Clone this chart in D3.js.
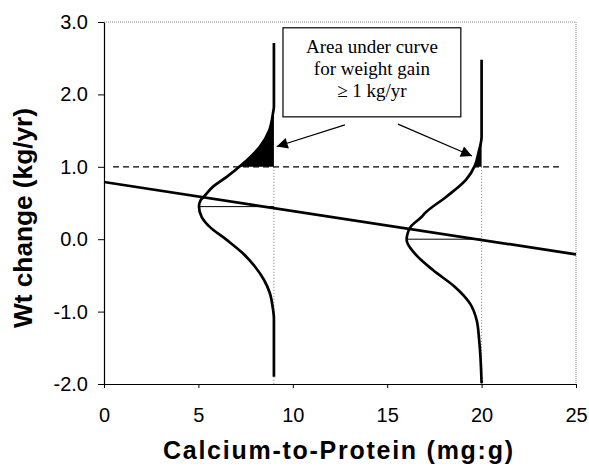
<!DOCTYPE html>
<html>
<head>
<meta charset="utf-8">
<script src="https://cdn.jsdelivr.net/npm/d3@7"></script>
<style>
  body { margin: 0; background: #fff; }
  text { font-family: "Liberation Sans", Arial, sans-serif; }
</style>
</head>
<body>
<svg id="chart"></svg>
<script>
// Canvas size
const width = 589;
const height = 467;
const margin = { top: 22, right: 13, bottom: 83, left: 104 };

// Axis ticks
const xTicks = [0, 5, 10, 15, 20, 25];
const yTicks = [-2, -1, 0, 1, 2, 3];

// Regression line (Ca:protein -> weight change)
const lineX = [0, 25];
const lineY = [0.79, -0.21];

// Distribution curve at 9 mg:g (sideways)
const curve1Base = 9;
const curve1Y = [2.71, 1.97, 1.83, 1.74, 1.51, 1.28, 1.02, 0.86, 0.73, 0.59, 0.54, 0.45, 0.31, 0.17, -0.01, -0.20, -0.38, -0.56, -0.75, -0.93, -1.10, -1.90];
const curve1X = [9.0, 9.0, 9.0, 8.95, 8.76, 8.26, 7.26, 6.5, 5.79, 5.3, 5.12, 5.03, 5.17, 5.6, 6.5, 7.38, 8.0, 8.47, 8.79, 8.93, 9.0, 9.0];
const curve1Peak = { x: 5.03, y: 0.45 };

// Distribution curve at 20 mg:g
const curve2Base = 20;
const curve2Y = [2.48, 1.42, 1.19, 1.02, 0.82, 0.59, 0.36, 0.31, 0.17, -0.01, -0.20, -0.43, -0.66, -0.89, -1.12, -1.39, -1.99];
const curve2X = [20, 20, 19.83, 19.65, 19.17, 18.15, 17.0, 16.83, 16.24, 16.03, 16.47, 17.44, 18.59, 19.39, 19.74, 19.87, 20];
const curve2Peak = { x: 16.03, y: 0.0 };

// Threshold for weight gain
const gainLevel = 1.0;
const dashX = [0.48, 24.15];

// Annotation box and arrows (data units)
const noteBox = { x0: 9.48, x1: 18.9, y0: 2.92, y1: 1.69 };
const noteLines = ["Area under curve", "for weight gain", "\u2265 1 kg/yr"];
const arrows = [
    { from: [12.76, 1.58], to: [9.15, 1.28] },
    { from: [15.57, 1.59], to: [19.49, 1.15] }
];

const svg = d3.select("#chart")
    .attr("width", width)
    .attr("height", height);

const xScale = d3.scaleLinear()
    .domain([0, 25])
    .range([margin.left, width - margin.right]);

const yScale = d3.scaleLinear()
    .domain([-2, 3])
    .range([height - margin.bottom, margin.top]);

// Arrow head marker
svg.append("defs").append("marker")
    .attr("id", "arrow")
    .attr("viewBox", "0 0 10 10")
    .attr("refX", 10)
    .attr("refY", 5)
    .attr("markerWidth", 15)
    .attr("markerHeight", 11)
    .attr("markerUnits", "userSpaceOnUse")
    .attr("orient", "auto")
    .append("path")
    .attr("d", "M0,0 L10,5 L0,10 Z")
    .attr("fill", "#000");

// Clip for the shaded area above the gain level
svg.select("defs").append("clipPath")
    .attr("id", "aboveGain")
    .append("rect")
    .attr("x", xScale(0))
    .attr("y", yScale(3))
    .attr("width", xScale(25) - xScale(0))
    .attr("height", yScale(gainLevel) - yScale(3));

// Plot frame: dotted top and right edges
svg.append("path")
    .attr("d", `M${xScale(0)},${yScale(3)} H${xScale(25)} V${yScale(-2)}`)
    .attr("fill", "none")
    .attr("stroke", "#888")
    .attr("stroke-width", 1)
    .attr("stroke-dasharray", "1,1");

// Dotted verticals at the two ratios
[curve1Base, curve2Base].forEach(b => {
    svg.append("line")
        .attr("x1", xScale(b)).attr("x2", xScale(b))
        .attr("y1", yScale(gainLevel)).attr("y2", yScale(-2))
        .attr("stroke", "#777")
        .attr("stroke-width", 1)
        .attr("stroke-dasharray", "1,2");
});

// Dashed line at 1 kg/yr
svg.append("line")
    .attr("x1", xScale(dashX[0])).attr("x2", xScale(dashX[1]))
    .attr("y1", yScale(gainLevel)).attr("y2", yScale(gainLevel))
    .attr("stroke", "#000")
    .attr("stroke-width", 1.3)
    .attr("stroke-dasharray", "6,4");

// Curves
const curves = [
    { xs: curve1X, ys: curve1Y, base: curve1Base, peak: curve1Peak },
    { xs: curve2X, ys: curve2Y, base: curve2Base, peak: curve2Peak }
];

curves.forEach(c => {
    const pts = c.xs.map((x, i) => ({ x: x, y: c.ys[i] }));

    // shaded tail above the gain level
    svg.append("path")
        .datum(pts)
        .attr("clip-path", "url(#aboveGain)")
        .attr("fill", "#000")
        .attr("d", d3.area()
            .curve(d3.curveMonotoneY)
            .y(d => yScale(d.y))
            .x0(xScale(c.base))
            .x1(d => xScale(d.x))
        );

    // thin line from peak to baseline
    svg.append("line")
        .attr("x1", xScale(c.peak.x)).attr("x2", xScale(c.base))
        .attr("y1", yScale(c.peak.y)).attr("y2", yScale(c.peak.y))
        .attr("stroke", "#000")
        .attr("stroke-width", 1);

    svg.append("path")
        .datum(pts)
        .attr("fill", "none")
        .attr("stroke", "#000")
        .attr("stroke-width", 2.7)
        .attr("d", d3.line()
            .curve(d3.curveMonotoneY)
            .x(d => xScale(d.x))
            .y(d => yScale(d.y))
        );
});

// Regression line
svg.append("line")
    .attr("x1", xScale(lineX[0])).attr("y1", yScale(lineY[0]))
    .attr("x2", xScale(lineX[1])).attr("y2", yScale(lineY[1]))
    .attr("stroke", "#000")
    .attr("stroke-width", 2.7);

// Annotation box
svg.append("rect")
    .attr("x", xScale(noteBox.x0))
    .attr("y", yScale(noteBox.y0))
    .attr("width", xScale(noteBox.x1) - xScale(noteBox.x0))
    .attr("height", yScale(noteBox.y1) - yScale(noteBox.y0))
    .attr("fill", "#fff")
    .attr("stroke", "#000")
    .attr("stroke-width", 1.2);

svg.append("g")
    .selectAll("text")
    .data(noteLines)
    .join("text")
    .attr("x", (xScale(noteBox.x0) + xScale(noteBox.x1)) / 2)
    .attr("y", (d, i) => yScale(noteBox.y0) + 25 + i * 22)
    .attr("text-anchor", "middle")
    .style("font-family", "'Liberation Serif', 'Times New Roman', serif")
    .style("font-size", "19px")
    .text(d => d);

// Arrows
arrows.forEach(a => {
    svg.append("line")
        .attr("x1", xScale(a.from[0])).attr("y1", yScale(a.from[1]))
        .attr("x2", xScale(a.to[0])).attr("y2", yScale(a.to[1]))
        .attr("stroke", "#000")
        .attr("stroke-width", 1.2)
        .attr("marker-end", "url(#arrow)");
});

// Axes
const yAxis = svg.append("g")
    .attr("transform", `translate(${xScale(0)},0)`)
    .call(d3.axisLeft(yScale)
        .tickValues(yTicks)
        .tickFormat(d => d.toFixed(1))
        .tickSize(6)
        .tickSizeOuter(0)
        .tickPadding(10));

const xAxis = svg.append("g")
    .attr("transform", `translate(0,${yScale(-2)})`)
    .call(d3.axisBottom(xScale)
        .tickValues(xTicks)
        .tickFormat(d3.format("d"))
        .tickSize(4)
        .tickSizeOuter(0)
        .tickPadding(20));

[yAxis, xAxis].forEach(g => {
    g.select(".domain").attr("stroke", "#000").attr("stroke-width", 1.2);
    g.selectAll(".tick line").attr("stroke", "#000");
    g.selectAll(".tick text")
        .attr("fill", "#000")
        .style("font-size", "20px")
        .style("font-family", "'Liberation Sans', Arial, sans-serif");
});

// Axis titles
svg.append("text")
    .attr("transform", `translate(32,218) rotate(-90)`)
    .attr("text-anchor", "middle")
    .attr("textLength", 220)
    .attr("lengthAdjust", "spacingAndGlyphs")
    .style("font-size", "26px")
    .style("font-weight", "bold")
    .text("Wt change (kg/yr)");

svg.append("text")
    .attr("x", 338)
    .attr("y", 459)
    .attr("text-anchor", "middle")
    .attr("textLength", 350)
    .attr("lengthAdjust", "spacing")
    .style("font-size", "25px")
    .style("font-weight", "bold")
    .text("Calcium-to-Protein (mg:g)");
</script>
</body>
</html>
